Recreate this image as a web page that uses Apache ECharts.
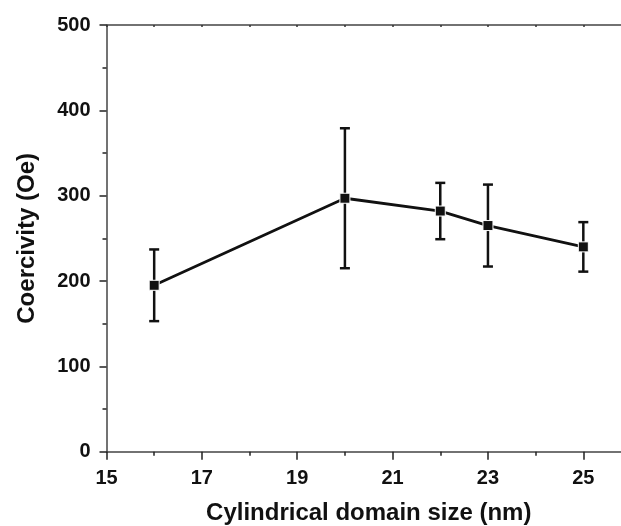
<!DOCTYPE html>
<html>
<head>
<meta charset="utf-8">
<script src="https://cdn.jsdelivr.net/npm/echarts@6/dist/echarts.min.js"></script>
<style>html,body{margin:0;padding:0;background:#fff;}#c{width:621px;height:526px;}</style>
</head>
<body>
<div id="c"></div>
<script>
const domainSize = [16, 20, 22, 23, 25];
const coercivity = [195, 297, 282, 265, 240];
const errLow = [153, 215, 249, 217, 211];
const errHigh = [237, 379, 315, 313, 269];
const xTicks = [15, 17, 19, 21, 23, 25];
const yTicks = [0, 100, 200, 300, 400, 500];

const FONT = '"Liberation Sans", Arial, sans-serif';
const axisColor = '#444';

const chart = echarts.init(document.getElementById('c'), null, {renderer: 'canvas'});
const errData = domainSize.map((x, i) => [x, errLow[i], errHigh[i]]);

chart.setOption({
  animation: false,
  backgroundColor: '#fff',
  grid: {left: 106.5, right: -10, top: 25, bottom: 74.3, containLabel: false, outerBoundsMode: 'none'},
  xAxis: [{
    type: 'value', min: 15, max: 26, interval: 2,
    name: 'Cylindrical domain size (nm)', nameLocation: 'middle', nameGap: 50,
    nameTextStyle: {fontFamily: FONT, fontWeight: 'bold', fontSize: 24, color: '#111'},
    axisLine: {show: true, lineStyle: {color: axisColor, width: 1.5}},
    axisTick: {show: true, length: 8, inside: false, lineStyle: {color: '#222', width: 1.5}},
    minorTick: {show: true, splitNumber: 2, length: 4, lineStyle: {color: '#222', width: 1.5}},
    splitLine: {show: false},
    axisLabel: {
      margin: 17, fontFamily: FONT, fontWeight: 'bold', fontSize: 20, color: '#111',
      formatter: v => xTicks.indexOf(v) >= 0 ? String(v) : ''
    }
  }, {
    type: 'value', position: 'top', min: 15, max: 26, interval: 1,
    axisLine: {show: true, lineStyle: {color: axisColor, width: 1.5}},
    axisTick: {show: true, inside: true, length: 2, lineStyle: {color: '#333', width: 1.5}},
    axisLabel: {show: false}, splitLine: {show: false}
  }],
  yAxis: {
    type: 'value', min: 0, max: 500, interval: 100,
    name: 'Coercivity (Oe)', nameLocation: 'middle', nameGap: 67,
    nameTextStyle: {fontFamily: FONT, fontWeight: 'bold', fontSize: 24, color: '#111'},
    axisLine: {show: true, lineStyle: {color: axisColor, width: 1.5}},
    axisTick: {show: true, length: 7, lineStyle: {color: '#222', width: 1.5}},
    minorTick: {show: true, splitNumber: 2, length: 4, lineStyle: {color: '#222', width: 1.5}},
    splitLine: {show: false},
    axisLabel: {
      margin: 16, fontFamily: FONT, fontWeight: 'bold', fontSize: 20, color: '#111',
      formatter: v => yTicks.indexOf(v) >= 0 ? String(v) : ''
    }
  },
  series: [{
    type: 'custom',
    xAxisIndex: 0,
    data: errData,
    z: 2,
    renderItem: function (params, api) {
      const x = api.value(0);
      const lo = api.coord([x, api.value(1)]);
      const hi = api.coord([x, api.value(2)]);
      const hw = 5;
      const style = {stroke: '#111', lineWidth: 2.5};
      return {
        type: 'group',
        children: [
          {type: 'line', shape: {x1: lo[0], y1: lo[1], x2: hi[0], y2: hi[1]}, style},
          {type: 'line', shape: {x1: lo[0] - hw, y1: lo[1], x2: lo[0] + hw, y2: lo[1]}, style},
          {type: 'line', shape: {x1: hi[0] - hw, y1: hi[1], x2: hi[0] + hw, y2: hi[1]}, style}
        ]
      };
    }
  }, {
    type: 'line',
    xAxisIndex: 0,
    data: domainSize.map((x, i) => [x, coercivity[i]]),
    z: 3,
    symbol: 'rect', symbolSize: 10,
    itemStyle: {color: '#111', borderColor: '#fff', borderWidth: 1},
    lineStyle: {color: '#111', width: 2.8}
  }]
});
</script>
</body>
</html>
